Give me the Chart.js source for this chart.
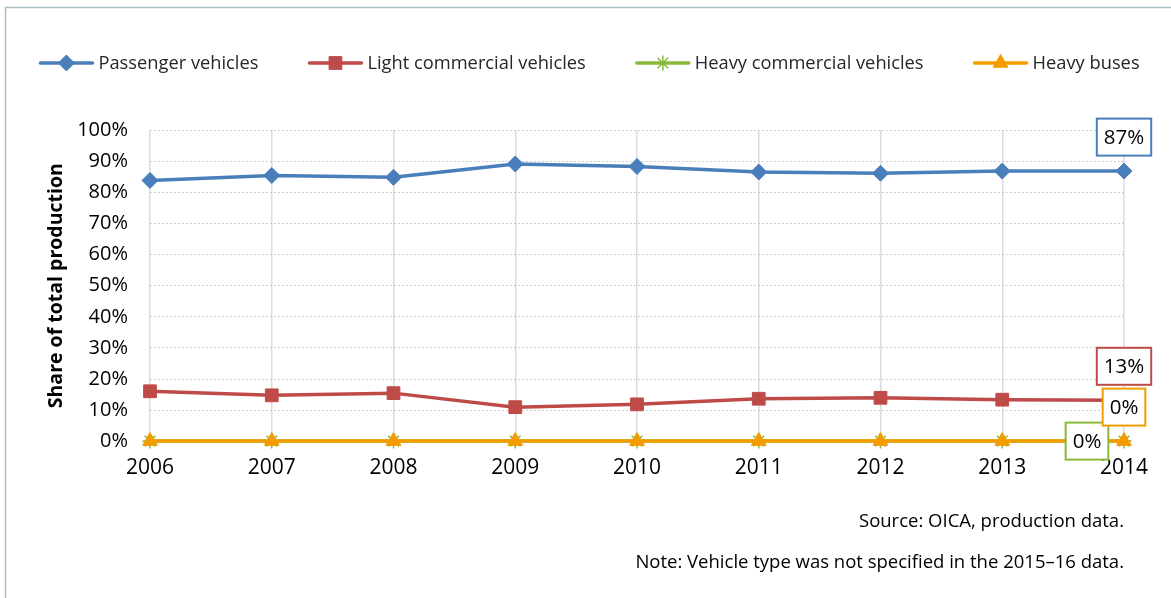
<!DOCTYPE html>
<html>
<head>
<meta charset="utf-8">
<script src="https://cdn.jsdelivr.net/npm/chart.js@4"></script>
<style>
  html, body { margin: 0; padding: 0; background: #fff; }
  #wrap { width: 1171px; height: 598px; position: relative; }
</style>
</head>
<body>
<div id="wrap"><canvas id="chart"></canvas></div>
<script>
// data (share of total production, %)
const years = ['2006', '2007', '2008', '2009', '2010', '2011', '2012', '2013', '2014'];
const passenger = [83.8, 85.4, 84.8, 89.1, 88.3, 86.5, 86.1, 86.8, 86.8];
const lightCommercial = [16.1, 14.8, 15.5, 11.0, 11.9, 13.7, 14.0, 13.4, 13.2];
const heavyCommercial = [0.1, 0.1, 0.1, 0.1, 0.1, 0.1, 0.1, 0.1, 0.1];
const heavyBuses = [0.1, 0.1, 0.1, 0.1, 0.1, 0.1, 0.1, 0.1, 0.1];
const endLabels = ['87%', '13%', '0%', '0%'];
const sourceText = ['Source: OICA, production data.', 'Note: Vehicle type was not specified in the 2015\u201316 data.'];

const FONT = "'Open Sans', 'DejaVu Sans', sans-serif";

function series(label, data, color, style, radius, order, labelSide) {
  return {
    label: label,
    data: data,
    borderColor: color,
    backgroundColor: color,
    borderWidth: 3.5,
    pointStyle: style,
    pointRadius: radius,
    pointHoverRadius: radius,
    pointBorderWidth: style === 'star' ? 1.5 : 1,
    tension: 0,
    clip: false,
    order: order,
    labelSide: labelSide
  };
}

// frame round the picture
const framePlugin = {
  id: 'frame',
  beforeDraw(chart) {
    const ctx = chart.ctx;
    ctx.save();
    ctx.fillStyle = '#fff';
    ctx.fillRect(0, 0, chart.width, chart.height);
    ctx.strokeStyle = '#a9bfc4';
    ctx.lineWidth = 1.5;
    ctx.strokeRect(5.5, 7.5, chart.width + 20, chart.height + 20);
    ctx.restore();
  }
};

// spreadsheet style legend: a short line with the marker in its middle
const legendPlugin = {
  id: 'lineLegend',
  afterDraw(chart) {
    const ctx = chart.ctx;
    const sw = 54, gapText = 5, gapItem = 50, y = 63;
    ctx.save();
    ctx.font = '18.3px ' + FONT;
    ctx.textBaseline = 'middle';
    const ds = chart.data.datasets;
    const widths = ds.map(function (d) { return sw + gapText + ctx.measureText(d.label).width; });
    const total = widths.reduce(function (a, b) { return a + b; }, 0) + gapItem * (ds.length - 1);
    let x = chart.width / 2 + 4 - total / 2;
    ds.forEach(function (d, i) {
      ctx.strokeStyle = d.borderColor;
      ctx.lineWidth = 3.5;
      ctx.lineCap = 'round';
      ctx.beginPath(); ctx.moveTo(x + 1, y); ctx.lineTo(x + sw - 1, y); ctx.stroke();
      ctx.lineCap = 'butt';
      ctx.fillStyle = d.backgroundColor;
      ctx.lineWidth = d.pointBorderWidth;
      Chart.helpers.drawPoint(ctx, { pointStyle: d.pointStyle, radius: d.pointRadius, borderWidth: d.pointBorderWidth }, x + sw / 2, y);
      ctx.fillStyle = '#262626';
      ctx.fillText(d.label, x + sw + gapText, y + 1);
      x += widths[i] + gapItem;
    });
    ctx.restore();
  }
};

// boxed value labels at the last point of every series
const endLabelPlugin = {
  id: 'endLabels',
  afterDatasetsDraw(chart) {
    const ctx = chart.ctx;
    ctx.save();
    ctx.font = '20.5px ' + FONT;
    ctx.textAlign = 'center';
    ctx.textBaseline = 'middle';
    chart.data.datasets.forEach(function (ds, i) {
      const meta = chart.getDatasetMeta(i);
      const pt = meta.data[meta.data.length - 1];
      const txt = endLabels[i];
      const w = ctx.measureText(txt).width + 14;
      const h = 37;
      let cx = pt.x, cy = pt.y - 34;
      if (ds.labelSide === 'left') { cx = pt.x - 37; cy = pt.y; }
      ctx.fillStyle = '#fff';
      ctx.fillRect(cx - w / 2, cy - h / 2, w, h);
      ctx.strokeStyle = ds.borderColor;
      ctx.lineWidth = 2;
      ctx.strokeRect(cx - w / 2, cy - h / 2, w, h);
      ctx.fillStyle = '#000';
      ctx.fillText(txt, cx, cy + 1);
    });
    ctx.restore();
  }
};

const chart = new Chart(document.getElementById('chart'), {
  type: 'line',
  data: {
    labels: years,
    datasets: [
      series('Passenger vehicles', passenger, '#4a7ebb', 'rectRot', 8, 3, 'above'),
      series('Light commercial vehicles', lightCommercial, '#be4b48', 'rect', 9, 2, 'above'),
      series('Heavy commercial vehicles', heavyCommercial, '#8ab93a', 'star', 7.5, 1, 'left'),
      series('Heavy buses', heavyBuses, '#f39c00', 'triangle', 8.5, 0, 'above')
    ]
  },
  options: {
    responsive: true,
    maintainAspectRatio: false,
    animation: false,
    layout: { padding: { left: 0, right: 47, top: 130, bottom: 15 } },
    plugins: {
      legend: { display: false },
      title: {
        display: true,
        position: 'bottom',
        align: 'end',
        text: sourceText,
        color: '#000',
        font: { family: FONT, size: 18.5, weight: 'normal', lineHeight: 2.2 },
        padding: { top: 7, bottom: 0 }
      },
      tooltip: { enabled: false }
    },
    scales: {
      x: {
        offset: false,
        grid: { color: '#dcdcdc', lineWidth: 1.5, drawTicks: false },
        border: { color: '#d9d9d9' },
        ticks: { color: '#000', padding: 14, font: { family: FONT, size: 21 } }
      },
      y: {
        min: 0,
        max: 100,
        afterFit: function (scale) { scale.width = 150; },
        grid: { color: '#bfbfbf', lineWidth: 1, drawTicks: false },
        border: { display: false, dash: [1.5, 2.5] },
        ticks: {
          stepSize: 10,
          autoSkip: false,
          padding: 22,
          color: '#000',
          font: { family: FONT, size: 20, lineHeight: 1 },
          callback: function (v) { return v + '%'; }
        },
        title: {
          display: true,
          text: 'Share of total production',
          color: '#000',
          font: { family: FONT, size: 19.5, weight: 'bold' },
          padding: { top: 45, bottom: 0 }
        }
      }
    }
  },
  plugins: [framePlugin, endLabelPlugin, legendPlugin]
});
</script>
</body>
</html>
